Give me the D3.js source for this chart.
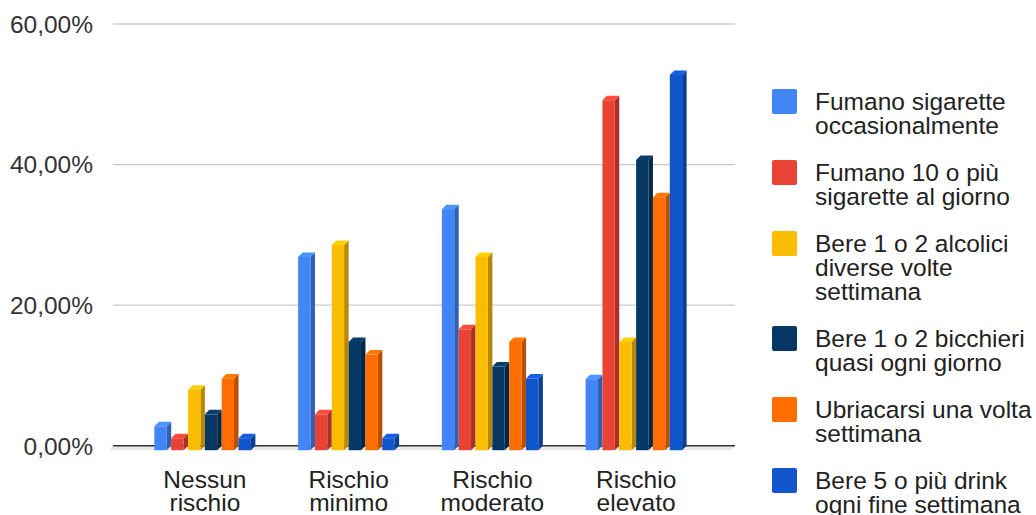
<!DOCTYPE html>
<html>
<head>
<meta charset="utf-8">
<script src="https://cdn.jsdelivr.net/npm/d3@7"></script>
<style>
  html, body { margin: 0; padding: 0; background: #fff; overflow: hidden; }
  svg { display: block; font-family: "Liberation Sans", Arial, sans-serif; }
</style>
</head>
<body>
<svg id="chart" width="1036" height="515"></svg>
<script>
// Risk categories on the x axis
const categories = ["Nessun rischio", "Rischio minimo", "Rischio moderato", "Rischio elevato"];

// Series names (legend) and their colours
const seriesNames = [
  "Fumano sigarette occasionalmente",
  "Fumano 10 o più sigarette al giorno",
  "Bere 1 o 2 alcolici diverse volte settimana",
  "Bere 1 o 2 bicchieri quasi ogni giorno",
  "Ubriacarsi una volta settimana",
  "Bere 5 o più drink ogni fine settimana"
];
const seriesColors = ["#4285f4", "#e94335", "#fbbc04", "#073763", "#ff6d01", "#1155cc"];

// Percentages per series, one value per category
const fumanoOccasionalmente = [3.4, 27.5, 34.3, 10.1];
const fumano10oPiu          = [1.7, 5.1, 17.2, 49.8];
const bereAlcoliciSettimana = [8.6, 29.2, 27.5, 15.4];
const bereBicchieriGiorno   = [5.1, 15.4, 11.9, 41.3];
const ubriacarsiSettimana   = [10.2, 13.6, 15.4, 36.0];
const bere5DrinkWeekend     = [1.7, 1.7, 10.2, 53.4];
const seriesValues = [fumanoOccasionalmente, fumano10oPiu, bereAlcoliciSettimana,
                      bereBicchieriGiorno, ubriacarsiSettimana, bere5DrinkWeekend];

// Y axis ticks
const yTicks = [0, 20, 40, 60];
const yTickLabels = ["0,00%", "20,00%", "40,00%", "60,00%"];

// Legend text, wrapped as drawn
const legendLines = [
  ["Fumano sigarette", "occasionalmente"],
  ["Fumano 10 o più", "sigarette al giorno"],
  ["Bere 1 o 2 alcolici", "diverse volte", "settimana"],
  ["Bere 1 o 2 bicchieri", "quasi ogni giorno"],
  ["Ubriacarsi una volta", "settimana"],
  ["Bere 5 o più drink", "ogni fine settimana"]
];
const categoryLines = [["Nessun", "rischio"], ["Rischio", "minimo"], ["Rischio", "moderato"], ["Rischio", "elevato"]];

const svg = d3.select("#chart");
const fontSize = 24.5;
const depth = 4.5;               // 3D extrusion offset
const wallLeft = 113, wallRight = 735;

const y = d3.scaleLinear().domain([0, 60]).range([445.7, 24]);
const x0 = d3.scaleBand().domain(categories).range([133, 708]);
const groupWidth = 101;
const x1 = d3.scaleBand().domain(d3.range(seriesNames.length)).range([0, groupWidth]);
const faceW = x1.bandwidth() - depth;

// Back wall gridlines
svg.append("g").selectAll("line")
  .data(yTicks.filter(d => d !== 0))
  .join("line")
  .attr("x1", wallLeft).attr("x2", wallRight)
  .attr("y1", d => y(d)).attr("y2", d => y(d))
  .attr("stroke", "#cccccc").attr("stroke-width", 1.3);

// Floor
const y0 = y(0);
svg.append("path")
  .attr("d", `M${wallLeft},${y0} L${wallRight},${y0} L${wallRight - depth},${y0 + depth} L${wallLeft - depth},${y0 + depth} Z`)
  .attr("fill", "#e8e8e8");
svg.append("line")
  .attr("x1", wallLeft).attr("x2", wallRight)
  .attr("y1", y0).attr("y2", y0)
  .attr("stroke", "#333333").attr("stroke-width", 1.5);

// Y tick labels
svg.append("g").selectAll("text")
  .data(yTicks)
  .join("text")
  .attr("x", 93).attr("y", d => y(d))
  .attr("dy", "0.36em")
  .attr("text-anchor", "end")
  .attr("font-size", fontSize)
  .attr("fill", "#333")
  .text((d, i) => yTickLabels[i]);

// 3D bars
const bars = [];
seriesValues.forEach((vals, s) => {
  vals.forEach((v, c) => bars.push({ s, c, v }));
});

const barG = svg.append("g");
bars.forEach(b => {
  const color = d3.color(seriesColors[b.s]);
  const xf = x0(categories[b.c]) + (x0.bandwidth() - groupWidth) / 2 + x1(b.s);
  const yTop = y(b.v) + depth;   // front face top
  const yBot = y0 + depth;       // front face bottom
  const g = barG.append("g");
  // side face
  g.append("path")
    .attr("d", `M${xf + faceW},${yTop} L${xf + faceW + depth},${yTop - depth} L${xf + faceW + depth},${yBot - depth} L${xf + faceW},${yBot} Z`)
    .attr("fill", color.darker(0.9));
  // top face
  g.append("path")
    .attr("d", `M${xf},${yTop} L${xf + depth},${yTop - depth} L${xf + faceW + depth},${yTop - depth} L${xf + faceW},${yTop} Z`)
    .attr("fill", color.brighter(0.3));
  // front face
  g.append("rect")
    .attr("x", xf).attr("y", yTop)
    .attr("width", faceW).attr("height", yBot - yTop)
    .attr("fill", color);
});

// Category labels
const catG = svg.append("g");
categories.forEach((cat, i) => {
  const cx = x0(cat) + x0.bandwidth() / 2;
  const t = catG.append("text")
    .attr("text-anchor", "middle")
    .attr("font-size", fontSize)
    .attr("fill", "#222");
  categoryLines[i].forEach((line, j) => {
    t.append("tspan").attr("x", cx).attr("y", 488 + j * 23).text(line);
  });
});

// Legend
const legend = svg.append("g");
let ly = 89;
seriesNames.forEach((name, i) => {
  legend.append("rect")
    .attr("x", 772).attr("y", ly)
    .attr("width", 25).attr("height", 25)
    .attr("rx", 2).attr("ry", 2)
    .attr("fill", seriesColors[i]);
  const t = legend.append("text")
    .attr("font-size", fontSize)
    .attr("fill", "#222");
  legendLines[i].forEach((line, j) => {
    t.append("tspan").attr("x", 815).attr("y", ly + 21 + j * 24).text(line);
  });
  ly += 23 + legendLines[i].length * 24;
});
</script>
</body>
</html>
